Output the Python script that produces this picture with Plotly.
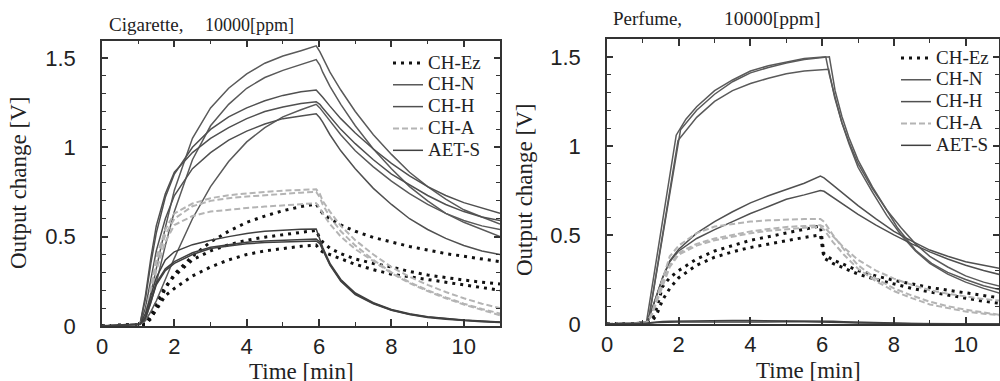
import plotly.graph_objects as go

# ---------------- Left panel: Cigarette, 10000 ppm ----------------
t_left = [0, 1.05, 1.2, 1.35, 1.5, 1.75, 2.0, 2.5, 3.0, 3.5, 4.0, 4.5, 5.0, 5.5,
          5.92, 6.02, 6.1, 6.3, 6.6, 7.0, 7.5, 8.0, 8.5, 9.0, 9.5, 10.0, 10.5, 11.0]

cig_ch_ez = [
    [0, 0.01, 0.01, 0.04, 0.10, 0.21, 0.29, 0.39, 0.47, 0.53, 0.58, 0.615, 0.645, 0.668,
     0.683, 0.65, 0.63, 0.60, 0.565, 0.53, 0.495, 0.47, 0.445, 0.425, 0.405, 0.39, 0.375, 0.36],
    [0, 0.01, 0.01, 0.06, 0.13, 0.22, 0.28, 0.37, 0.42, 0.455, 0.48, 0.497, 0.51, 0.524,
     0.535, 0.49, 0.47, 0.435, 0.405, 0.375, 0.35, 0.33, 0.305, 0.285, 0.27, 0.257, 0.245, 0.235],
    [0, 0.01, 0.01, 0.05, 0.09, 0.17, 0.21, 0.28, 0.33, 0.37, 0.40, 0.42, 0.435, 0.446,
     0.453, 0.425, 0.415, 0.40, 0.375, 0.345, 0.315, 0.29, 0.275, 0.26, 0.245, 0.23, 0.215, 0.20],
]
cig_ch_n = [
    [0, 0.01, 0.05, 0.18, 0.32, 0.55, 0.76, 1.05, 1.22, 1.33, 1.41, 1.47, 1.51, 1.54,
     1.567, 1.535, 1.50, 1.42, 1.32, 1.20, 1.07, 0.96, 0.86, 0.78, 0.71, 0.65, 0.61, 0.57],
    [0, 0.01, 0.04, 0.13, 0.24, 0.45, 0.64, 0.93, 1.12, 1.24, 1.33, 1.39, 1.43, 1.465,
     1.49, 1.46, 1.42, 1.34, 1.24, 1.12, 0.99, 0.88, 0.78, 0.70, 0.63, 0.58, 0.54, 0.50],
    [0, 0.01, 0.03, 0.08, 0.14, 0.26, 0.38, 0.60, 0.78, 0.92, 1.03, 1.11, 1.17, 1.21,
     1.24, 1.22, 1.20, 1.15, 1.07, 0.98, 0.89, 0.81, 0.74, 0.68, 0.63, 0.59, 0.56, 0.54],
]
cig_ch_h = [
    [0, 0.01, 0.15, 0.35, 0.52, 0.72, 0.85, 1.00, 1.10, 1.17, 1.22, 1.26, 1.29, 1.31,
     1.32, 1.30, 1.28, 1.23, 1.16, 1.08, 0.99, 0.91, 0.84, 0.78, 0.73, 0.69, 0.66, 0.63],
    [0, 0.01, 0.17, 0.38, 0.56, 0.74, 0.86, 0.97, 1.05, 1.11, 1.16, 1.20, 1.225, 1.245,
     1.255, 1.24, 1.22, 1.17, 1.10, 1.02, 0.93, 0.85, 0.79, 0.73, 0.68, 0.64, 0.61, 0.59],
    [0, 0.01, 0.10, 0.27, 0.42, 0.60, 0.73, 0.88, 0.97, 1.04, 1.09, 1.13, 1.16, 1.175,
     1.187, 1.165, 1.14, 1.07, 0.98, 0.88, 0.77, 0.68, 0.60, 0.54, 0.49, 0.45, 0.42, 0.40],
]
cig_ch_a = [
    [0, 0.01, 0.06, 0.22, 0.38, 0.54, 0.63, 0.685, 0.715, 0.732, 0.742, 0.75, 0.757, 0.762,
     0.765, 0.74, 0.70, 0.64, 0.56, 0.48, 0.40, 0.33, 0.275, 0.23, 0.19, 0.155, 0.125, 0.10],
    [0, 0.01, 0.05, 0.19, 0.35, 0.51, 0.60, 0.67, 0.70, 0.715, 0.724, 0.732, 0.74, 0.746,
     0.75, 0.72, 0.68, 0.61, 0.53, 0.45, 0.37, 0.30, 0.245, 0.20, 0.16, 0.125, 0.095, 0.07],
    [0, 0.01, 0.04, 0.16, 0.31, 0.47, 0.565, 0.615, 0.64, 0.652, 0.66, 0.668, 0.675, 0.682,
     0.687, 0.66, 0.63, 0.57, 0.50, 0.43, 0.36, 0.295, 0.24, 0.195, 0.155, 0.12, 0.09, 0.06],
]
cig_aet_s = [
    [0, 0.01, 0.07, 0.17, 0.27, 0.37, 0.415, 0.455, 0.48, 0.50, 0.518, 0.53, 0.537, 0.541,
     0.543, 0.49, 0.44, 0.35, 0.26, 0.185, 0.13, 0.092, 0.068, 0.052, 0.042, 0.034, 0.028, 0.023],
    [0, 0.01, 0.05, 0.14, 0.24, 0.32, 0.36, 0.41, 0.44, 0.455, 0.468, 0.476, 0.481, 0.485,
     0.487, 0.47, 0.43, 0.345, 0.255, 0.18, 0.127, 0.09, 0.066, 0.05, 0.04, 0.032, 0.026, 0.021],
    [0, 0.01, 0.04, 0.13, 0.23, 0.31, 0.35, 0.40, 0.433, 0.448, 0.46, 0.467, 0.471, 0.474,
     0.476, 0.46, 0.425, 0.34, 0.25, 0.176, 0.124, 0.088, 0.064, 0.048, 0.038, 0.030, 0.024, 0.019],
]

# ---------------- Right panel: Perfume, 10000 ppm ----------------
t_right = [0, 1.1, 1.25, 1.4, 1.55, 1.75, 2.0, 2.5, 3.0, 3.5, 4.0, 4.5, 5.0, 5.5,
           5.95, 6.05, 6.3, 6.6, 7.0, 7.5, 8.0, 8.5, 9.0, 9.5, 10.0, 10.5, 11.0]

per_ch_ez = [
    [0, 0.005, 0.02, 0.10, 0.21, 0.26, 0.30, 0.365, 0.41, 0.44, 0.47, 0.49, 0.513, 0.532,
     0.55, 0.39, 0.36, 0.335, 0.30, 0.27, 0.245, 0.225, 0.205, 0.19, 0.175, 0.16, 0.145],
    [0, 0.005, 0.01, 0.06, 0.135, 0.20, 0.26, 0.33, 0.375, 0.405, 0.43, 0.45, 0.47, 0.486,
     0.50, 0.37, 0.34, 0.315, 0.28, 0.25, 0.225, 0.20, 0.18, 0.162, 0.145, 0.128, 0.115],
]
per_ch_h = [
    [0, 0.005, 0.08, 0.17, 0.26, 0.355, 0.42, 0.51, 0.575, 0.63, 0.68, 0.72, 0.755, 0.79,
     0.83, 0.82, 0.78, 0.73, 0.665, 0.59, 0.52, 0.465, 0.415, 0.38, 0.35, 0.33, 0.31],
    [0, 0.005, 0.08, 0.17, 0.26, 0.35, 0.41, 0.48, 0.53, 0.575, 0.62, 0.66, 0.70, 0.725,
     0.75, 0.745, 0.71, 0.67, 0.615, 0.555, 0.50, 0.45, 0.405, 0.365, 0.33, 0.30, 0.275],
]
per_ch_a = [
    [0, 0.005, 0.06, 0.16, 0.26, 0.38, 0.44, 0.51, 0.547, 0.563, 0.575, 0.582, 0.587, 0.589,
     0.59, 0.575, 0.50, 0.42, 0.33, 0.255, 0.20, 0.16, 0.125, 0.10, 0.08, 0.063, 0.05],
    [0, 0.005, 0.05, 0.14, 0.23, 0.33, 0.40, 0.45, 0.48, 0.50, 0.52, 0.533, 0.545, 0.55,
     0.555, 0.545, 0.49, 0.43, 0.36, 0.30, 0.255, 0.22, 0.19, 0.17, 0.155, 0.14, 0.13],
    [0, 0.005, 0.05, 0.13, 0.22, 0.32, 0.39, 0.44, 0.47, 0.49, 0.51, 0.523, 0.533, 0.54,
     0.545, 0.53, 0.46, 0.39, 0.31, 0.24, 0.185, 0.145, 0.11, 0.088, 0.07, 0.058, 0.048],
]
per_aet_s = [
    [0, 0.003, 0.008, 0.012, 0.014, 0.016, 0.017, 0.018, 0.018, 0.019, 0.019, 0.019, 0.02, 0.02,
     0.02, 0.019, 0.016, 0.013, 0.01, 0.007, 0.005, 0.003, 0.002, 0.001, 0.001, 0.0, 0.0],
    [0, 0.002, 0.005, 0.008, 0.009, 0.010, 0.011, 0.011, 0.012, 0.012, 0.012, 0.012, 0.012, 0.012,
     0.012, 0.011, 0.01, 0.008, 0.006, 0.004, 0.003, 0.002, 0.001, 0.0, 0.0, 0.0, 0.0],
]
# CH-N in perfume: each curve has its own time base (sharp knee and late peak)
per_ch_n_t = [
    [0, 1.1, 1.93, 2.2, 2.5, 3.0, 3.5, 4.0, 4.5, 5.0, 5.5, 6.1, 6.2, 6.35, 6.55, 6.75, 7.0,
     7.4, 7.8, 8.2, 8.6, 9.0, 9.5, 10.0, 10.5, 11.0],
    [0, 1.15, 2.05, 2.5, 3.0, 3.5, 4.0, 4.5, 5.0, 5.5, 6.2, 6.36, 6.55, 6.74, 7.0, 7.4, 7.8,
     8.1, 8.6, 9.05, 9.5, 10.0, 10.5, 11.0],
    [0, 1.15, 1.98, 2.5, 3.0, 3.5, 4.0, 4.5, 5.0, 5.5, 6.18, 6.35, 6.55, 6.75, 7.0, 7.4, 7.8,
     8.2, 8.6, 9.0, 9.5, 10.0, 10.5, 11.0],
]
per_ch_n = [
    [0, 0.01, 1.06, 1.15, 1.22, 1.31, 1.37, 1.42, 1.45, 1.47, 1.49, 1.50, 1.40, 1.28, 1.13,
     1.01, 0.88, 0.74, 0.61, 0.50, 0.41, 0.34, 0.28, 0.235, 0.20, 0.17],
    [0, 0.01, 1.09, 1.20, 1.29, 1.36, 1.41, 1.44, 1.465, 1.485, 1.50, 1.31, 1.165, 1.05, 0.92,
     0.77, 0.64, 0.54, 0.415, 0.34, 0.29, 0.25, 0.215, 0.19],
    [0, 0.01, 1.03, 1.16, 1.25, 1.31, 1.35, 1.38, 1.405, 1.42, 1.43, 1.27, 1.13, 1.02, 0.90,
     0.76, 0.64, 0.54, 0.45, 0.38, 0.32, 0.27, 0.235, 0.21],
]

legend_names = ["CH-Ez", "CH-N", "CH-H", "CH-A", "AET-S"]
styles = {
    "CH-Ez": dict(color="#111111", width=3, dash="3px,5px"),
    "CH-N": dict(color="#5a5a5a", width=1.5),
    "CH-H": dict(color="#505050", width=1.5),
    "CH-A": dict(color="#b4b4b4", width=2, dash="6px,3px"),
    "AET-S": dict(color="#404040", width=1.5),
}

W, H = 1000, 381


def px(x):
    return x / W


def py(y):
    return 1 - y / H


fig = go.Figure()


def add_group(name, t_list, ys, xa, ya, leg):
    for i, y in enumerate(ys):
        fig.add_trace(go.Scatter(
            x=t_list[i], y=y, mode="lines",
            name="<span style='font-size:19px'>" + name + "</span>",
            line=styles[name], xaxis=xa, yaxis=ya,
            legend=leg, legendgroup=leg + name, showlegend=(i == 0),
            legendrank=legend_names.index(name) + 1,
        ))


left_sets = {"CH-Ez": cig_ch_ez, "CH-N": cig_ch_n, "CH-H": cig_ch_h,
             "CH-A": cig_ch_a, "AET-S": cig_aet_s}
for nm in legend_names:
    ys = left_sets[nm]
    add_group(nm, [t_left] * len(ys), ys, "x", "y", "legend")

right_sets = {"CH-Ez": per_ch_ez, "CH-H": per_ch_h, "CH-A": per_ch_a, "AET-S": per_aet_s}
for nm in legend_names:
    if nm == "CH-N":
        add_group(nm, per_ch_n_t, per_ch_n, "x2", "y2", "legend2")
    else:
        ys = right_sets[nm]
        add_group(nm, [t_right] * len(ys), ys, "x2", "y2", "legend2")

sans = "Liberation Sans, Arial, sans-serif"
serif = "Liberation Serif, Times New Roman, serif"

xcommon = dict(
    showline=True, mirror="ticks", linecolor="#333333", linewidth=1.5,
    ticks="inside", ticklen=7, tickwidth=1.5, tickcolor="#333333",
    dtick=2, tick0=0, showgrid=False, zeroline=False, automargin=False,
    minor=dict(ticks="inside", ticklen=4, tickwidth=1.2, dtick=1, tickcolor="#333333"),
    tickfont=dict(family=sans, size=22, color="#222222"),
    ticklabelstandoff=0,
)
ycommon = dict(
    showline=True, mirror="ticks", linecolor="#333333", linewidth=1.5,
    ticks="inside", ticklen=6, tickwidth=1.5, tickcolor="#333333",
    dtick=0.5, tick0=0, showgrid=False, zeroline=False, automargin=False,
    minor=dict(ticks="inside", ticklen=4, tickwidth=1.2, dtick=0.1, tickcolor="#333333"),
    tickfont=dict(family=sans, size=22, color="#222222"),
    ticklabelstandoff=20,
)

leg_font = dict(family=serif, size=14.5, color="#222222")
fig.update_layout(
    width=W, height=H, autosize=False,
    margin=dict(l=0, r=0, t=0, b=0),
    paper_bgcolor="white", plot_bgcolor="white",
    xaxis=dict(domain=[px(102), px(500)], range=[0, 11], anchor="y", **xcommon),
    yaxis=dict(domain=[py(326), py(40.7)], range=[0, 1.596], anchor="x", **ycommon),
    xaxis2=dict(domain=[px(607), px(999)], range=[0, 10.93], anchor="y2", **xcommon),
    yaxis2=dict(domain=[py(324), py(39)], range=[0, 1.6], anchor="x2", **ycommon),
    legend=dict(x=px(388), y=py(47), xanchor="left", yanchor="top",
                bgcolor="rgba(0,0,0,0)", borderwidth=0, itemwidth=30,
                font=leg_font, tracegroupgap=0),
    legend2=dict(x=px(896), y=py(42), xanchor="left", yanchor="top",
                 bgcolor="rgba(0,0,0,0)", borderwidth=0, itemwidth=30,
                 font=leg_font, tracegroupgap=0),
    showlegend=True,
)

ann_font = dict(family=serif, color="#222222")
annotations = [
    dict(text="Cigarette,", x=px(145.5), y=py(25), font=dict(size=19, **ann_font),
         xanchor="center", yanchor="middle"),
    dict(text="10000[ppm]", x=px(249.5), y=py(25), font=dict(size=18, **ann_font),
         xanchor="center", yanchor="middle"),
    dict(text="Perfume,", x=px(647.5), y=py(19), font=dict(size=19, **ann_font),
         xanchor="center", yanchor="middle"),
    dict(text="10000[ppm]", x=px(772), y=py(19), font=dict(size=19.5, **ann_font),
         xanchor="center", yanchor="middle"),
    dict(text="Output change [V]", x=px(18), y=py(183), textangle=-90,
         font=dict(size=23, **ann_font), xanchor="center", yanchor="middle"),
    dict(text="Output change [V]", x=px(524), y=py(190), textangle=-90,
         font=dict(size=23, **ann_font), xanchor="center", yanchor="middle"),
    dict(text="Time [min]", x=px(301), y=py(371), font=dict(size=23, **ann_font),
         xanchor="center", yanchor="middle"),
    dict(text="Time [min]", x=px(808), y=py(370), font=dict(size=23, **ann_font),
         xanchor="center", yanchor="middle"),
]
for a in annotations:
    a.update(xref="paper", yref="paper", showarrow=False)
fig.update_layout(annotations=annotations)

# remove the browser's default 8px body margin so the 1000x381 figure fills the page
fig.write_html("out.html",
               config={"displayModeBar": False},
               post_script="document.body.style.margin='0';"
                           "document.body.style.overflow='hidden';")
